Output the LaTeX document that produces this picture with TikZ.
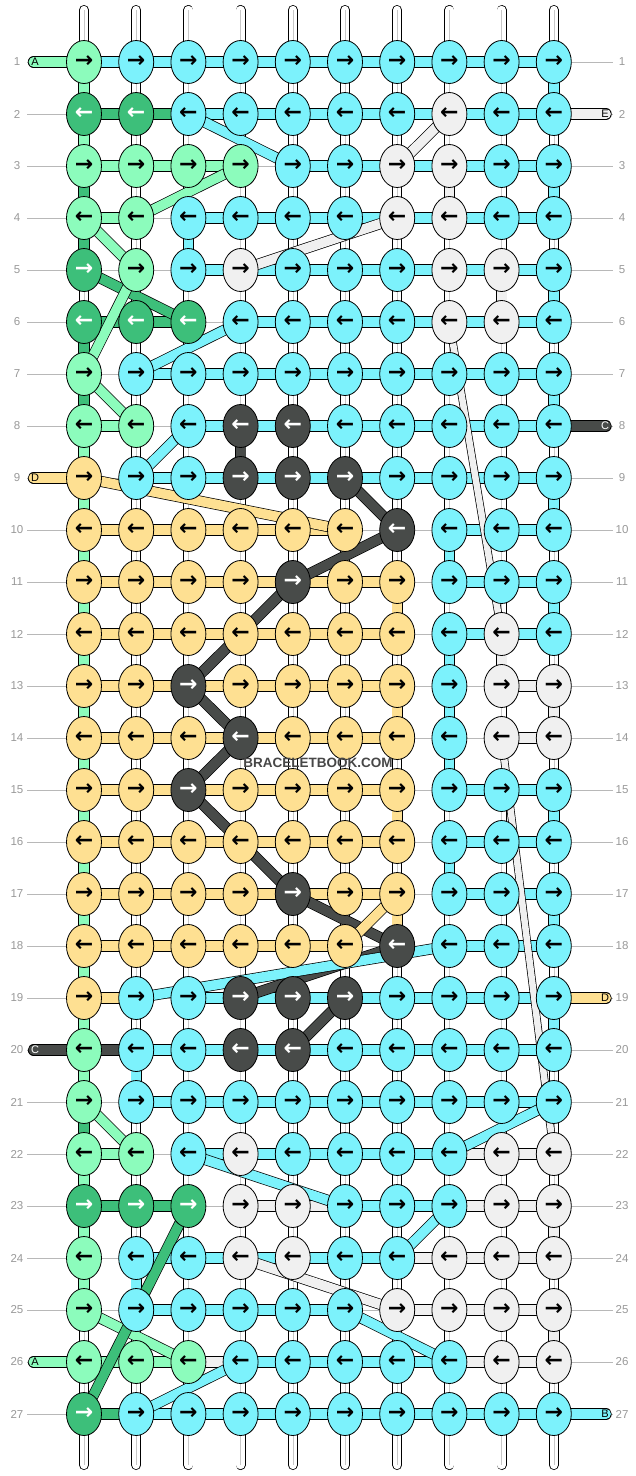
\documentclass[tikz,border=0pt]{standalone}
\usepackage{fontspec}
\setmainfont{Liberation Sans}
\newfontfamily\arrowfont{DejaVu Sans}
\usetikzlibrary{shapes.geometric}
\definecolor{cG}{HTML}{8CFCBC}
\definecolor{cD}{HTML}{3DBF7A}
\definecolor{cC}{HTML}{7CF2FC}
\definecolor{cW}{HTML}{F0F0F0}
\definecolor{cK}{HTML}{484B49}
\definecolor{cY}{HTML}{FEE092}
\definecolor{lblgray}{HTML}{999999}
\pgfdeclarelayer{l0}\pgfdeclarelayer{l1}\pgfdeclarelayer{l2}\pgfdeclarelayer{l3}
\pgfsetlayers{l0,l1,l2,l3,main}
\newcommand\karr[1]{\ifodd#1\relax→\else←\fi}
\begin{document}
\begin{tikzpicture}[x=1pt,y=-1pt,
  knot/.style={ellipse,draw=black,line width=0.8pt,minimum width=35pt,minimum height=43pt,inner sep=0pt,font=\arrowfont\bfseries\fontsize{22}{22}\selectfont},
  kG/.style={fill=cG,text=black}, kC/.style={fill=cC,text=black}, kW/.style={fill=cW,text=black},
  kY/.style={fill=cY,text=black}, kD/.style={fill=cD,text=white}, kK/.style={fill=cK,text=white},
  bar/.style={line width=0.8pt,draw=black,double distance=9.8pt},
  diag/.style={line width=0.7pt,draw=black,double distance=9.6pt},
  wband/.style={line width=0.7pt,draw=black,double=cW,double distance=6.5pt},
  warp/.style={line width=0.8pt,draw=black,double=white,double distance=8.4pt,line cap=round},
  warpline/.style={line width=0.5pt,draw=black!22},
  rowline/.style={line width=0.7pt,draw=black!28},
  rowlbl/.style={font=\fontsize{11.5}{12}\selectfont,text=lblgray,inner sep=0pt},
  slbl/.style={font=\fontsize{11}{11}\selectfont,inner sep=0pt},
  sbar/.style={line width=0.8pt,draw=black,double distance=9.8pt,line cap=round},
  tG/.style={text=black}, tC/.style={text=black}, tW/.style={text=black}, tY/.style={text=black}, tK/.style={text=white},
  wmark/.style={font=\bfseries\fontsize{13.5}{14}\selectfont,text=black!72,inner sep=0pt}
]
\useasboundingbox (0,0) rectangle (636,1476);
% knots
\foreach \r/\row in {
 1/{G,C,C,C,C,C,C,C,C,C}, 2/{D,D,C,C,C,C,C,W,C,C}, 3/{G,G,G,G,C,C,W,W,C,C},
 4/{G,G,C,C,C,C,W,W,C,C}, 5/{D,G,C,W,C,C,C,W,W,C}, 6/{D,D,D,C,C,C,C,W,W,C},
 7/{G,C,C,C,C,C,C,C,C,C}, 8/{G,G,C,K,K,C,C,C,C,C}, 9/{Y,C,C,K,K,K,C,C,C,C},
 10/{Y,Y,Y,Y,Y,Y,K,C,C,C}, 11/{Y,Y,Y,Y,K,Y,Y,C,C,C}, 12/{Y,Y,Y,Y,Y,Y,Y,C,W,C},
 13/{Y,Y,K,Y,Y,Y,Y,C,W,W}, 14/{Y,Y,Y,K,Y,Y,Y,C,W,W}, 15/{Y,Y,K,Y,Y,Y,Y,C,C,C},
 16/{Y,Y,Y,Y,Y,Y,Y,C,C,C}, 17/{Y,Y,Y,Y,K,Y,Y,C,C,C}, 18/{Y,Y,Y,Y,Y,Y,K,C,C,C},
 19/{Y,C,C,K,K,K,C,C,C,C}, 20/{G,C,C,K,K,C,C,C,C,C}, 21/{G,C,C,C,C,C,C,C,C,C},
 22/{G,G,C,W,C,C,C,C,W,W}, 23/{D,D,D,W,W,C,C,C,W,W}, 24/{G,C,C,W,W,C,C,W,W,W},
 25/{G,C,C,C,C,C,W,W,W,W}, 26/{G,G,G,C,C,C,C,C,W,W}, 27/{D,C,C,C,C,C,C,C,C,C}}{
  \foreach \k [count=\c] in \row {
    \node[knot,k\k] (k-\r-\c) at ({84+52.2*(\c-1)},{62+52*(\r-1)}) {\karr{\r}};
  }
  \coordinate (gl-\r) at (27,{62+52*(\r-1)});
  \coordinate (gr-\r) at (613,{62+52*(\r-1)});
  \node[rowlbl] (rl-\r) at (17,{62+52*(\r-1)}) {\r};
  \node[rowlbl] (rr-\r) at (622,{62+52*(\r-1)}) {\r};
}
% background, row lines, warp strings
\begin{pgfonlayer}{l0}
  \fill[white] (0,0) rectangle (636,1476);
  \foreach \r in {1,...,27} { \draw[rowline] (gl-\r) -- (gr-\r); }
  \foreach \c in {1,...,10} {
    \coordinate (wt-\c) at ({84+52.2*(\c-1)},10);
    \coordinate (wb-\c) at ({84+52.2*(\c-1)},1465);
    \draw[warp] (wt-\c) -- (wb-\c);
    \draw[warpline] (wt-\c) -- (wb-\c);
  }
\end{pgfonlayer}
% coloured vertical segments
\begin{pgfonlayer}{l1}
  \foreach \c/\r/\k in {1/1/G,1/2/G,1/3/D,1/4/D,1/6/D,1/7/D,1/8/G,1/9/G,1/10/G,1/11/G,1/12/G,1/13/G,
    1/14/G,1/15/G,1/16/G,1/17/G,1/18/G,1/19/G,1/20/G,1/21/D,1/22/G,1/23/G,1/24/G,
    10/1/C,10/3/C,10/5/C,10/7/C,10/9/C,10/11/C,10/13/W,10/15/C,10/17/C,10/19/C,10/23/W,10/25/W,
    3/4/C,2/20/C,2/24/C,4/8/K,7/11/Y,7/13/Y,7/15/Y,7/17/Y,8/10/C,8/12/C,8/13/C,8/14/C,8/16/C,
    9/12/W,8/3/W,9/5/W} {
    \pgfmathtruncatemacro\rn{\r+1}
    \draw[bar,double=c\k] (k-\r-\c.center) -- (k-\rn-\c.center);
  }
\end{pgfonlayer}
% horizontal bars and side strings
\begin{pgfonlayer}{l2}
\foreach \r/\row in {
 1/{C,C,C,C,C,C,C,C,C}, 2/{D,D,C,C,C,C,C,C,C}, 3/{G,G,G,N,C,C,C,C,C},
 4/{G,N,C,C,C,C,C,C,C}, 5/{N,N,C,C,C,C,C,C,C}, 6/{D,D,N,C,C,C,C,C,C},
 7/{N,C,C,C,C,C,C,C,C}, 8/{G,N,C,C,C,C,C,C,C}, 9/{N,C,C,C,C,C,C,C,C},
 10/{Y,Y,Y,Y,Y,N,N,C,C}, 11/{Y,Y,Y,Y,Y,Y,N,C,C}, 12/{Y,Y,Y,Y,Y,Y,N,C,C},
 13/{Y,Y,Y,Y,Y,Y,N,N,W}, 14/{Y,Y,Y,Y,Y,Y,N,N,W}, 15/{Y,Y,Y,Y,Y,Y,N,C,C},
 16/{Y,Y,Y,Y,Y,Y,N,C,C}, 17/{Y,Y,Y,Y,Y,Y,N,C,C}, 18/{Y,Y,Y,Y,Y,N,N,C,C},
 19/{Y,N,C,C,C,C,C,C,C}, 20/{K,C,C,C,C,C,C,C,C}, 21/{N,C,C,C,C,C,C,C,C},
 22/{G,N,C,C,C,C,C,W,W}, 23/{D,D,N,W,W,C,C,W,W}, 24/{N,C,C,C,C,C,W,W,W},
 25/{N,C,C,C,C,N,W,W,W}, 26/{G,G,W,C,C,C,C,W,W}, 27/{D,C,C,C,C,C,C,C,C}}{
  \foreach \k [count=\c] in \row {
    \if N\k\else
      \pgfmathtruncatemacro\cn{\c+1}
      \draw[bar,double=c\k] (k-\r-\c.center) -- (k-\r-\cn.center);
    \fi
  }
}
\foreach \r/\l/\k in {1/A/G,9/D/Y,20/C/K,26/A/G} {
  \coordinate (sa-\r) at (33.5,{62+52*(\r-1)});
  \draw[sbar,double=c\k] (sa-\r) -- (k-\r-1.center);
  \node[slbl,t\k] (st-\r) at (35,{62+52*(\r-1)}) {\l};
}
\foreach \r/\l/\k in {2/E/W,8/C/K,19/D/Y,27/B/C} {
  \coordinate (sa-\r) at (606,{62+52*(\r-1)});
  \draw[sbar,double=c\k] (sa-\r) -- (k-\r-10.center);
  \node[slbl,t\k] (st-\r) at (605,{62+52*(\r-1)}) {\l};
}
\end{pgfonlayer}
% diagonal string changes
\begin{pgfonlayer}{l3}
  \draw[wband] (k-6-8.center) -- (k-12-9.center);
  \draw[wband] (k-14-9.center) -- (k-22-10.center);
  \foreach \ra/\ca/\rb/\cb/\k in {2/3/3/5/C, 2/8/3/7/W, 3/4/4/2/G, 4/7/5/4/W, 4/1/5/2/G,
    5/1/6/3/D, 5/2/7/1/G, 6/4/7/2/C, 7/1/8/2/G, 8/3/9/2/C, 9/1/10/6/Y, 9/6/10/7/K,
    10/7/11/5/K, 11/5/13/3/K, 13/3/14/4/K, 14/4/15/3/K, 15/3/17/5/K, 17/5/18/7/K,
    17/7/18/6/Y, 18/7/19/4/K, 18/8/19/2/C, 19/6/20/5/K, 21/1/22/2/G, 21/10/22/8/C,
    22/3/23/6/C, 23/8/24/7/C, 24/4/25/7/W, 25/6/26/8/C, 25/1/26/3/G, 26/4/27/2/C,
    23/3/27/1/D} {
    \draw[diag,double=c\k] (k-\ra-\ca.center) -- (k-\rb-\cb.center);
  }
\end{pgfonlayer}
\node[wmark] (wm) at (318,763) {BRACELETBOOK.COM};
\end{tikzpicture}
\end{document}
